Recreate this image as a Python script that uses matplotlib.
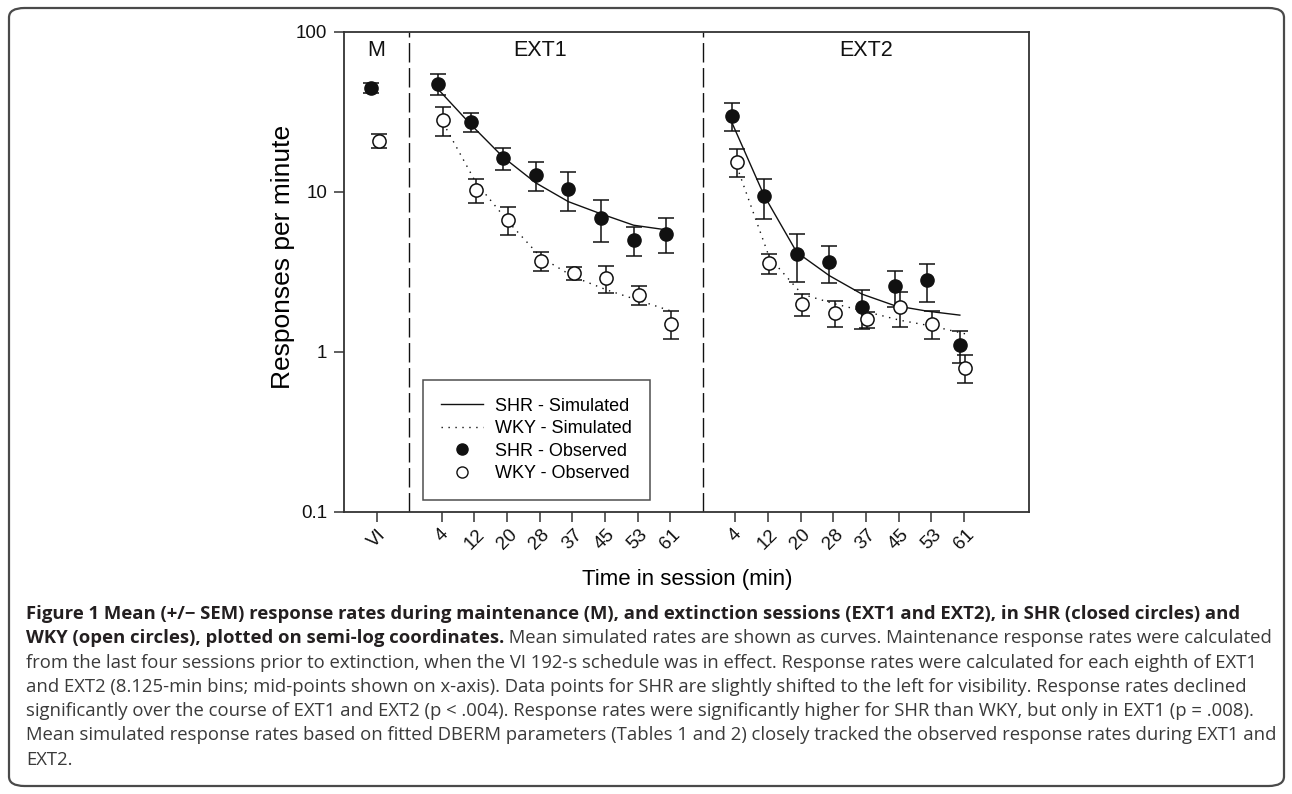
import matplotlib
matplotlib.use("Agg")
import matplotlib.pyplot as plt
from matplotlib.patches import FancyBboxPatch
from matplotlib.lines import Line2D
import numpy as np

# ---------------- data ----------------
ext_ticks = ["4", "12", "20", "28", "37", "45", "53", "61"]
m_tick = "VI"

m_shr, m_shr_sem = 44.5, 3.2
m_wky, m_wky_sem = 20.9, 2.0

shr_ext1 = [47.5, 27.5, 16.3, 12.8, 10.5, 6.9, 5.0, 5.5]
shr_ext1_sem = [7.0, 3.75, 2.6, 2.6, 2.9, 2.0, 1.0, 1.35]
wky_ext1 = [28.0, 10.3, 6.7, 3.72, 3.11, 2.9, 2.28, 1.5]
wky_ext1_sem = [5.75, 1.8, 1.33, 0.49, 0.31, 0.55, 0.32, 0.3]

shr_ext2 = [29.9, 9.4, 4.1, 3.64, 1.92, 2.57, 2.8, 1.1]
shr_ext2_sem = [5.95, 2.6, 1.35, 0.95, 0.52, 0.65, 0.75, 0.25]
wky_ext2 = [15.5, 3.59, 1.99, 1.76, 1.6, 1.9, 1.5, 0.8]
wky_ext2_sem = [3.1, 0.5, 0.32, 0.32, 0.18, 0.46, 0.3, 0.16]

sim_shr_ext1 = [44, 26.5, 16.5, 11.4, 8.7, 7.3, 6.2, 5.8]
sim_wky_ext1 = [27, 11.5, 6.5, 3.9, 2.95, 2.45, 2.1, 1.8]
sim_shr_ext2 = [27.5, 9.5, 4.2, 3.0, 2.3, 1.95, 1.8, 1.7]
sim_wky_ext2 = [14.5, 3.9, 2.3, 2.0, 1.78, 1.58, 1.45, 1.3]

caption_lines = [
    [("Figure 1 Mean (+/\u2212 SEM) response rates during maintenance (M), and extinction sessions (EXT1 and EXT2), in SHR (closed circles) and", "bold")],
    [("WKY (open circles), plotted on semi-log coordinates.", "bold"),
     (" Mean simulated rates are shown as curves. Maintenance response rates were calculated", "normal")],
    [("from the last four sessions prior to extinction, when the VI 192-s schedule was in effect. Response rates were calculated for each eighth of EXT1", "normal")],
    [("and EXT2 (8.125-min bins; mid-points shown on x-axis). Data points for SHR are slightly shifted to the left for visibility. Response rates declined", "normal")],
    [("significantly over the course of EXT1 and EXT2 (p < .004). Response rates were significantly higher for SHR than WKY, but only in EXT1 (p = .008).", "normal")],
    [("Mean simulated response rates based on fitted DBERM parameters (Tables 1 and 2) closely tracked the observed response rates during EXT1 and", "normal")],
    [("EXT2.", "normal")],
]

# ---------------- layout ----------------
W, H = 1292, 794
plt.rcParams['font.family'] = ['Liberation Sans', 'DejaVu Sans']
fig = plt.figure(figsize=(W / 100, H / 100), dpi=100)

ax = fig.add_axes([344 / W, 1 - 512 / H, (1029 - 344) / W, (512 - 32) / H])
ax.set_yscale('log')
ax.set_ylim(0.1, 100)
ax.set_xlim(-1, 20)

x1 = np.arange(2, 10)
x2 = np.arange(11, 19)
s_shr, s_wky = -0.12, 0.04

ink = '#111111'
eb = dict(fmt='none', ecolor=ink, elinewidth=1.1, capsize=5.5, capthick=1.1, zorder=3)
mk_f = dict(marker='o', ms=9.5, mfc=ink, mec=ink, mew=1.0, ls='none', zorder=4)
mk_o = dict(marker='o', ms=9.5, mfc='white', mec=ink, mew=1.1, ls='none', zorder=4)

# maintenance
ax.errorbar([-0.18], [m_shr], yerr=[m_shr_sem], **eb)
ax.plot([-0.18], [m_shr], **mk_f)
ax.errorbar([0.06], [m_wky], yerr=[m_wky_sem], **eb)
ax.plot([0.06], [m_wky], **mk_o)

for xs, shr, shr_e, wky, wky_e, ss, sw in [
    (x1, shr_ext1, shr_ext1_sem, wky_ext1, wky_ext1_sem, sim_shr_ext1, sim_wky_ext1),
    (x2, shr_ext2, shr_ext2_sem, wky_ext2, wky_ext2_sem, sim_shr_ext2, sim_wky_ext2),
]:
    ax.plot(xs + s_shr, ss, color=ink, lw=1.0, zorder=2)
    ax.plot(xs + s_wky, sw, color=ink, lw=1.0, ls=(0, (1, 4)), zorder=2)
    ax.errorbar(xs + s_shr, shr, yerr=shr_e, **eb)
    ax.plot(xs + s_shr, shr, **mk_f)
    ax.errorbar(xs + s_wky, wky, yerr=wky_e, **eb)
    ax.plot(xs + s_wky, wky, **mk_o)

for xv in (1, 10):
    ax.axvline(xv, color=ink, lw=1.0, dashes=(14, 4), zorder=1)

ax.set_xticks([0] + list(x1) + list(x2))
ax.set_xticklabels([m_tick] + ext_ticks + ext_ticks, rotation=45, ha='center', va='top')
ax.set_yticks([0.1, 1, 10, 100])
ax.set_yticklabels(["0.1", "1", "10", "100"])
ax.yaxis.set_minor_locator(matplotlib.ticker.NullLocator())
ax.tick_params(axis='both', direction='out', length=7, width=1.1, color='#333333',
               labelsize=13.5, labelcolor='#111111')
ax.tick_params(axis='x', pad=3)
ax.tick_params(axis='y', pad=5)
for s in ax.spines.values():
    s.set_linewidth(1.3)
    s.set_color('#333333')

ax.set_ylabel("Responses per minute", fontsize=19)
ax.yaxis.set_label_coords((283 - 344) / 685, (512 - 257) / 480)
ax.set_xlabel("Time in session (min)", fontsize=16)
ax.xaxis.set_label_coords((687 - 344) / 685, (512 - 580) / 480)
ax.xaxis.label.set_va('center')
ax.yaxis.label.set_va('center')

for lab, xv in (("M", 0), ("EXT1", 5.0), ("EXT2", 15.0)):
    ax.text(xv, 10 ** (2 - 18 / 160), lab, ha='center', va='center', fontsize=15.5, color=ink)

handles = [
    Line2D([], [], color=ink, lw=1.0),
    Line2D([], [], color=ink, lw=1.0, ls=(0, (1, 4))),
    Line2D([], [], marker='o', ms=8, mfc=ink, mec=ink, ls='none'),
    Line2D([], [], marker='o', ms=8, mfc='white', mec=ink, ls='none'),
]
labels = ["SHR - Simulated", "WKY - Simulated", "SHR - Observed", "WKY - Observed"]
leg = ax.legend(handles, labels, loc='lower left', bbox_to_anchor=((423 - 344) / 685, (512 - 500) / 480),
                fontsize=13, frameon=True, fancybox=False, borderpad=1.0, handlelength=2.3,
                labelspacing=0.3, handletextpad=0.7, borderaxespad=0)
leg.get_frame().set_edgecolor('#222222')
leg.get_frame().set_linewidth(1.1)

# caption frame
frame = FancyBboxPatch((9 / W, 8 / H), (1284 - 9) / W, (786 - 8) / H,
                       boxstyle="round,pad=0,rounding_size=0.012",
                       transform=fig.transFigure, fill=False, ec='#4a4a4a', lw=1.6)
fig.patches.append(frame)

# caption: size fitted so the full lines span the frame width
fig.canvas.draw()
renderer = fig.canvas.get_renderer()
cap_family = ['Open Sans', 'DejaVu Sans']
probe = fig.text(0, 0, caption_lines[2][0][0], fontsize=10, family=cap_family)
pw = probe.get_window_extent(renderer=renderer).width
probe.remove()
cap_fs = 10 * (1255 - 26) / pw

y0, dy = 614, 24.3
for i, segs in enumerate(caption_lines):
    x = 26
    y = 1 - (y0 + i * dy) / H
    for txt, wt in segs:
        t = fig.text(x / W, y, txt, fontsize=cap_fs, fontweight=wt, family=cap_family,
                     color='#231f20' if wt == 'bold' else '#3a3a3a', va='center', ha='left')
        bb = t.get_window_extent(renderer=renderer)
        x = bb.x1

fig.savefig("out.png", dpi=100)
